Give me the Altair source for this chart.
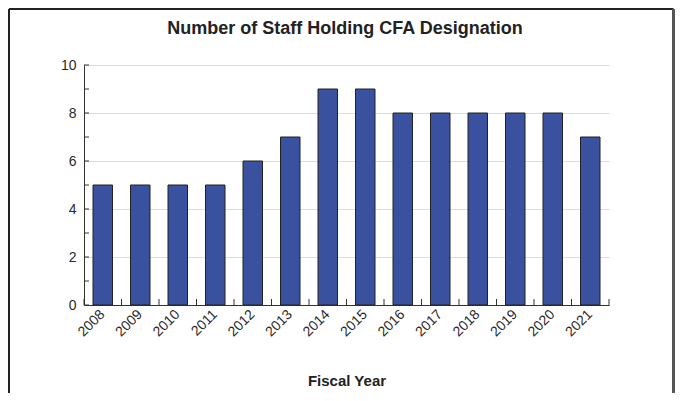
import altair as alt
import pandas as pd

years = ["2008", "2009", "2010", "2011", "2012", "2013", "2014",
         "2015", "2016", "2017", "2018", "2019", "2020", "2021"]
staff = [5, 5, 5, 5, 6, 7, 9, 9, 8, 8, 8, 8, 8, 7]
y_ticks = list(range(0, 11))
title_text = ["Number of Staff Holding CFA Designation"]

W, H = 525, 240
PAD = {"left": 76, "top": 57, "right": 66, "bottom": 88}
FONT = "Liberation Sans"

df = pd.DataFrame({"year": years, "staff": staff})

xscale = alt.Scale(paddingInner=0.48, paddingOuter=0.24)
yscale = alt.Scale(domain=[0, 10])

bars = alt.Chart(df).mark_bar(color="#3A51A0", stroke="#222222", strokeWidth=1).encode(
    x=alt.X("year:N", scale=xscale, sort=years,
            axis=alt.Axis(title="Fiscal Year", labelAngle=-45, labelAlign="right",
                          labelBaseline="middle", labelPadding=7, ticks=False,
                          domainColor="#333333", labelColor="#2a2a2a",
                          labelFontSize=14, labelFont=FONT,
                          titleFont=FONT, titleFontSize=15, titleFontWeight="bold",
                          titleColor="#222222", titleY=80, titleBaseline="alphabetic")),
    y=alt.Y("staff:Q", scale=yscale,
            axis=alt.Axis(title=None, values=[0, 2, 4, 6, 8, 10], ticks=False,
                          labelPadding=8, labelFontSize=14, labelFont=FONT,
                          labelColor="#2a2a2a", domainColor="#333333",
                          gridColor="#dddddd", grid=True)),
)

tick_df = pd.DataFrame({"year": years})
xticks = alt.Chart(tick_df).mark_rule(color="#333333", strokeWidth=1, xOffset=-9).encode(
    x=alt.X("year:N", sort=years, bandPosition=0),
    y=alt.value(H), y2=alt.value(H - 6),
)
xtick_end = alt.Chart(pd.DataFrame({"year": [years[-1]]})).mark_rule(
    color="#333333", strokeWidth=1, xOffset=9).encode(
    x=alt.X("year:N", sort=years, bandPosition=1),
    y=alt.value(H), y2=alt.value(H - 6),
)

yt_df = pd.DataFrame({"v": y_ticks})
yticks = alt.Chart(yt_df).mark_rule(color="#333333", strokeWidth=1).encode(
    y=alt.Y("v:Q"),
    x=alt.value(0), x2=alt.value(5),
)

title = alt.Chart(pd.DataFrame({"t": title_text})).mark_text(
    font=FONT, fontSize=18, fontWeight="bold", color="#222222",
    align="center", baseline="alphabetic").encode(
    text="t:N", x=alt.value(W / 2 - 1.5), y=alt.value(-31))

one = pd.DataFrame({"a": [0]})
left_edge = -PAD["left"] + 1
top_edge = -PAD["top"] + 1
right_edge = W + PAD["right"] - 1.5
bottom_edge = H + PAD["bottom"]
frame_top = alt.Chart(one).mark_rule(color="#222222", strokeWidth=2).encode(
    x=alt.value(left_edge), x2=alt.value(right_edge), y=alt.value(top_edge))
frame_left = alt.Chart(one).mark_rule(color="#222222", strokeWidth=2).encode(
    x=alt.value(left_edge), y=alt.value(top_edge), y2=alt.value(bottom_edge))
frame_right = alt.Chart(one).mark_rule(color="#555555", strokeWidth=3).encode(
    x=alt.value(right_edge), y=alt.value(top_edge), y2=alt.value(bottom_edge))

chart = alt.layer(bars, xticks, xtick_end, yticks, title,
                  frame_top, frame_left, frame_right).properties(
    width=W, height=H,
    padding=PAD,
    autosize=alt.AutoSizeParams(type="none"),
).configure_view(stroke=None)

chart.save("out.html", embed_options={"renderer": "svg", "actions": False})
